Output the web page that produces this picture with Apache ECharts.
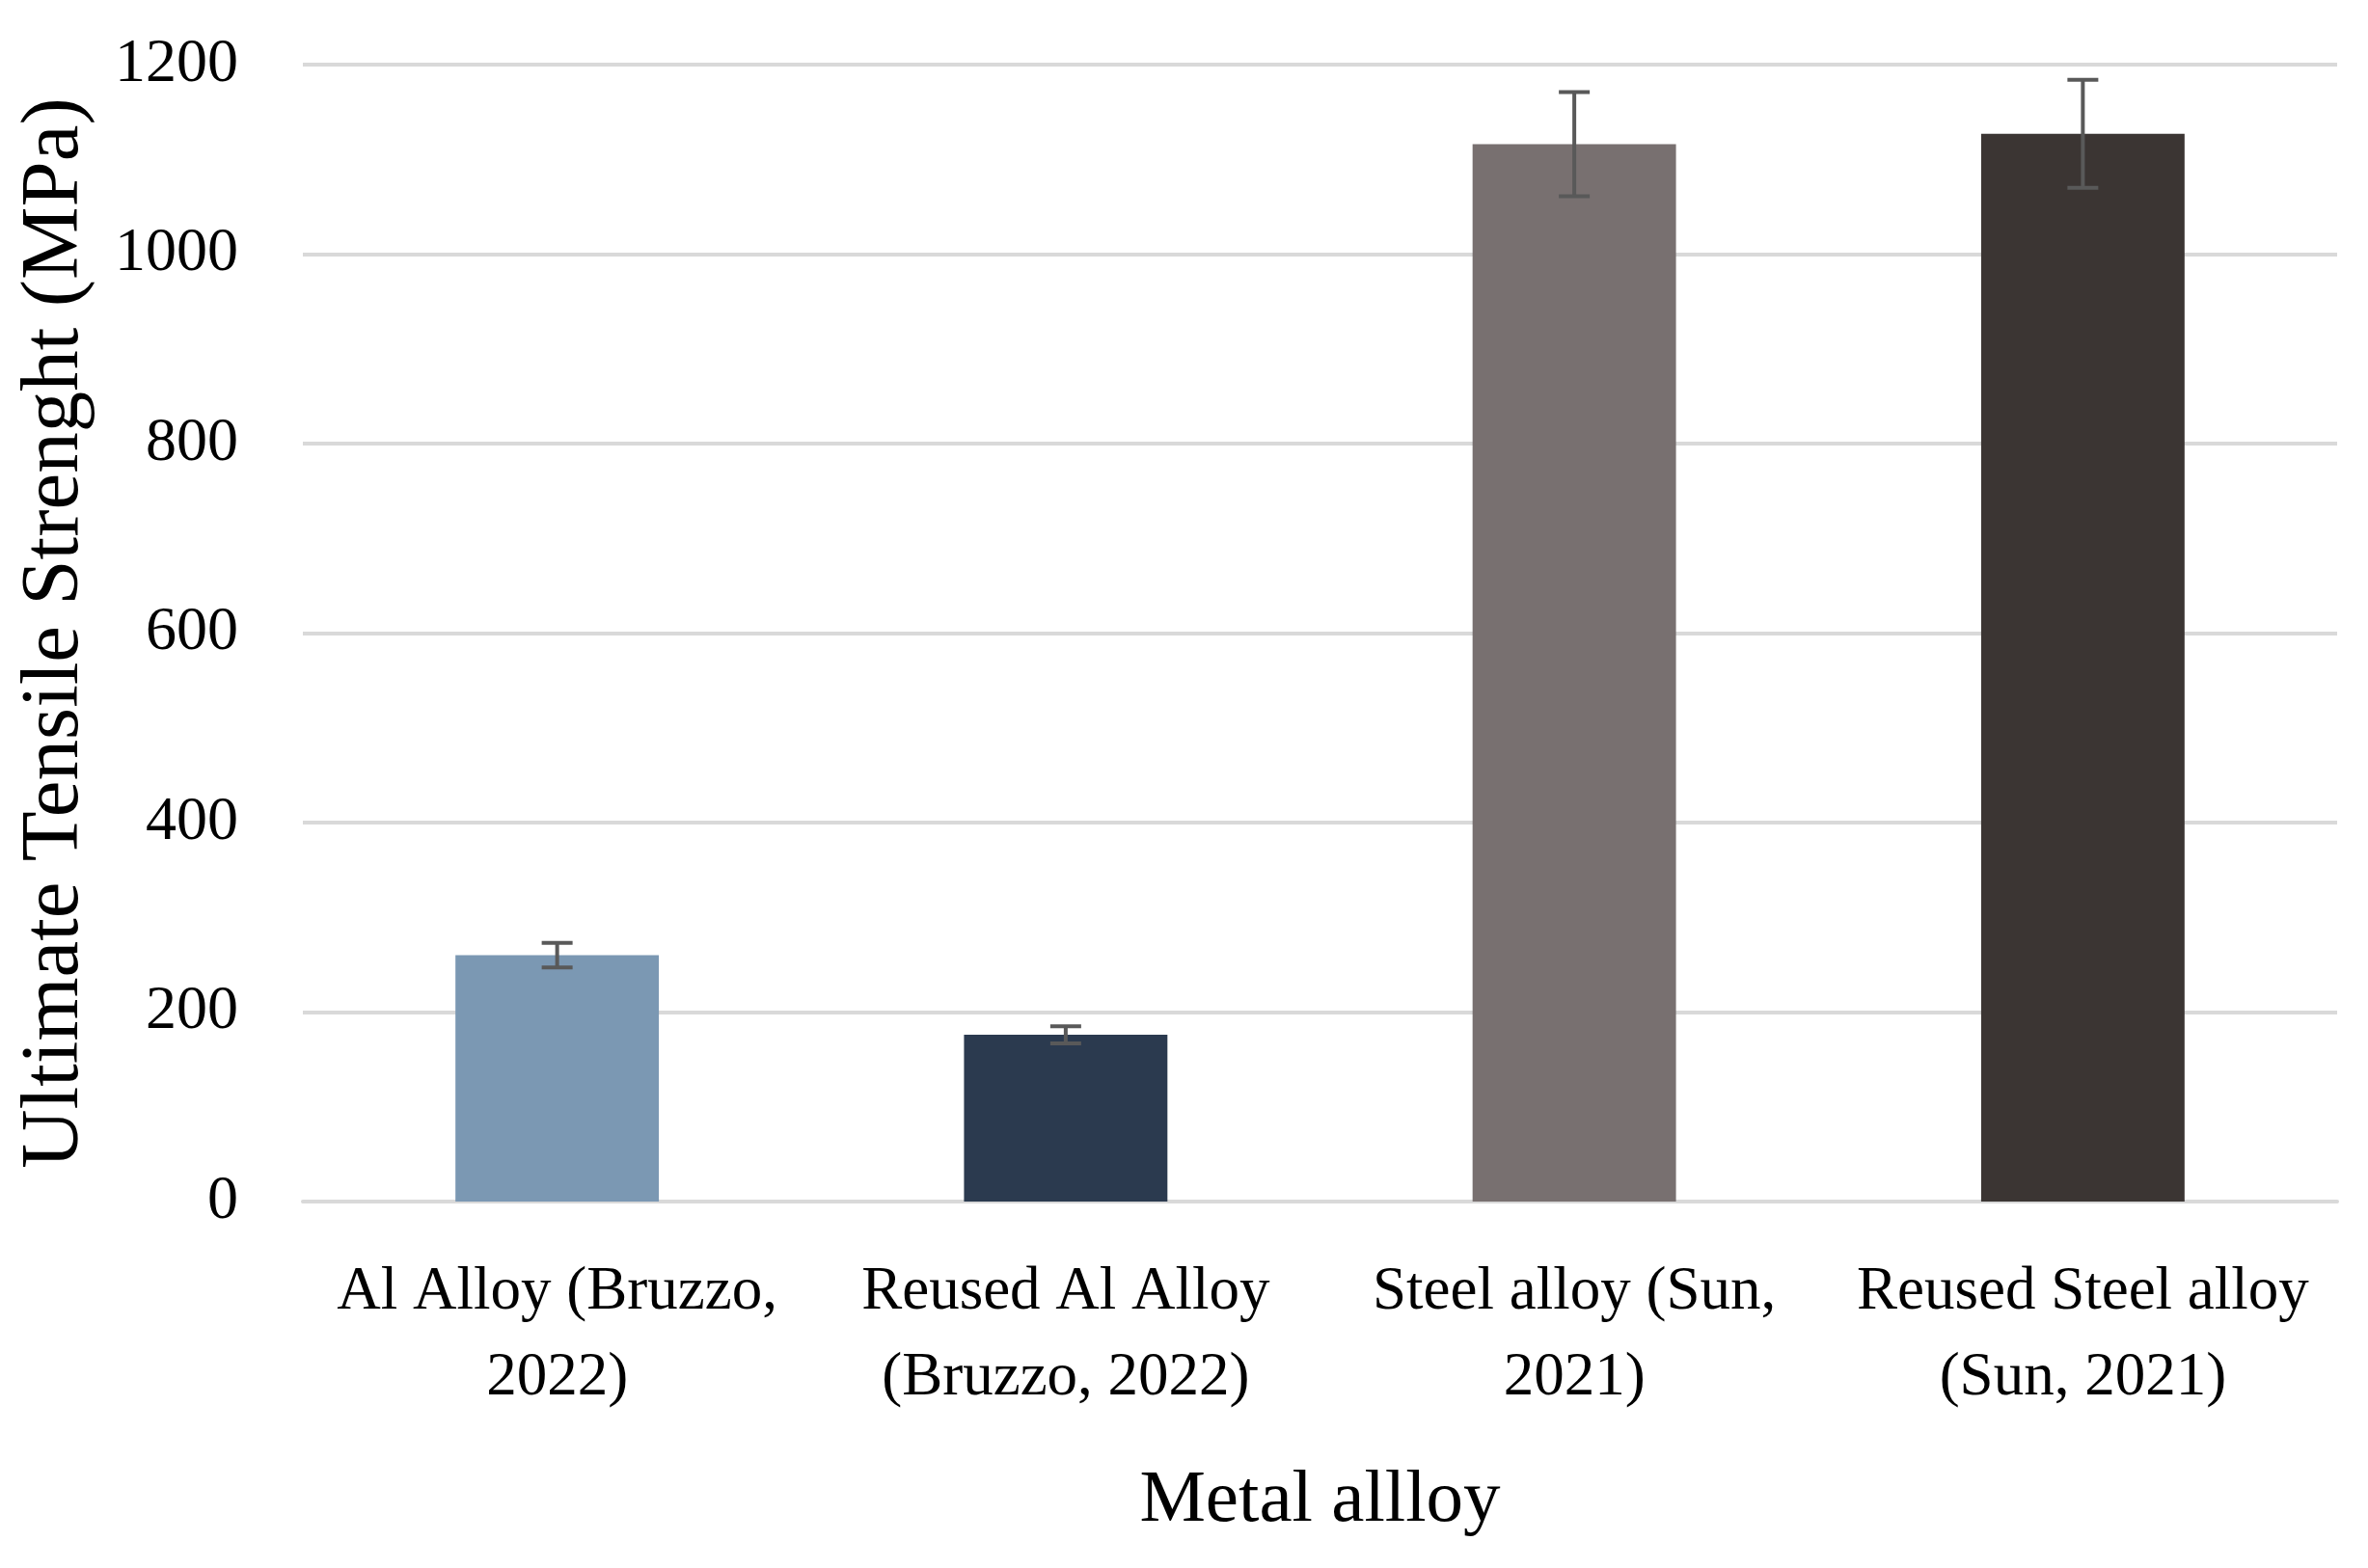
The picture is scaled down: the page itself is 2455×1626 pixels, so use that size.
<!DOCTYPE html>
<html>
<head>
<meta charset="utf-8">
<script src="https://cdn.jsdelivr.net/npm/echarts@6/dist/echarts.min.js"></script>
<style>
html,body{margin:0;padding:0;background:#fff;}
#c{width:2455px;height:1626px;}
</style>
</head>
<body>
<div id="c"></div>
<script>
const categories = ['Al Alloy (Bruzzo,\n2022)', 'Reused Al Alloy\n(Bruzzo, 2022)', 'Steel alloy (Sun,\n2021)', 'Reused Steel alloy\n(Sun, 2021)'];
const values = [260, 176, 1116, 1127];
const errors = [13, 9, 55, 57];
const barColors = ['#7b98b3', '#2b3a4f', '#787070', '#3b3533'];
const yTicks = [0, 200, 400, 600, 800, 1000, 1200];

const FONT = 'Liberation Serif';
const chart = echarts.init(document.getElementById('c'));
chart.setOption({
  backgroundColor: '#fff',
  animation: false,
  grid: { left: 314, right: 32, top: 67, bottom: 380 },
  xAxis: {
    type: 'category',
    data: categories,
    name: 'Metal allloy',
    nameLocation: 'middle',
    nameGap: 272,
    nameTextStyle: { fontFamily: FONT, fontSize: 77, color: '#000' },
    axisLine: { show: true, lineStyle: { color: '#d9d9d9', width: 4 } },
    axisTick: { show: false },
    axisLabel: { fontFamily: FONT, fontSize: 63, color: '#000', lineHeight: 89, margin: 50, interval: 0 }
  },
  yAxis: {
    type: 'value',
    min: yTicks[0],
    max: yTicks[yTicks.length - 1],
    interval: 200,
    name: 'Ultimate Tensile Strenght (MPa)',
    nameLocation: 'middle',
    nameGap: 214,
    nameTextStyle: { fontFamily: FONT, fontSize: 85, color: '#000' },
    axisLine: { show: false },
    axisTick: { show: false },
    axisLabel: { fontFamily: FONT, fontSize: 64, color: '#000', margin: 67, formatter: v => String(v) },
    splitLine: { lineStyle: { color: '#d9d9d9', width: 4 } }
  },
  series: [
    {
      type: 'bar',
      barWidth: '40%',
      data: values.map((v, i) => ({ value: v, itemStyle: { color: barColors[i] } })),
      z: 2
    },
    {
      type: 'custom',
      z: 3,
      data: values.map((v, i) => [i, v - errors[i], v + errors[i]]),
      renderItem: function (params, api) {
        const x = api.value(0);
        const lo = api.coord([x, api.value(1)]);
        const hi = api.coord([x, api.value(2)]);
        const hw = 16;
        const style = { stroke: '#595959', lineWidth: 4 };
        return {
          type: 'group',
          children: [
            { type: 'line', shape: { x1: lo[0], y1: lo[1], x2: hi[0], y2: hi[1] }, style: style },
            { type: 'line', shape: { x1: lo[0] - hw, y1: lo[1], x2: lo[0] + hw, y2: lo[1] }, style: style },
            { type: 'line', shape: { x1: hi[0] - hw, y1: hi[1], x2: hi[0] + hw, y2: hi[1] }, style: style }
          ]
        };
      }
    }
  ]
});
</script>
</body>
</html>
